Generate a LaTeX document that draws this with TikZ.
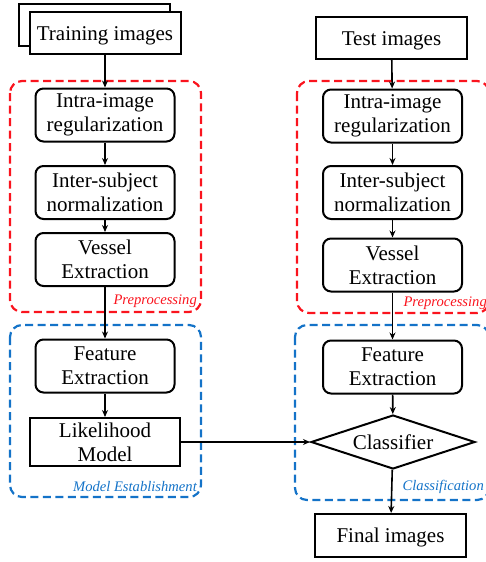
\documentclass[tikz,border=0pt]{standalone}
\usepackage{fontspec}
\setmainfont{Liberation Serif}
\usetikzlibrary{shapes.geometric,arrows.meta}
\definecolor{pred}{RGB}{250,20,30}
\definecolor{pblue}{RGB}{20,115,200}
\begin{document}
\begin{tikzpicture}[x=1pt,y=-1pt,
  every node/.style={font=\fontsize{21}{24}\selectfont, inner sep=0pt, align=center},
  rbox/.style={draw, line width=2pt, rounded corners=8pt, minimum width=139pt, minimum height=53pt},
  sbox/.style={draw, line width=2pt, minimum width=151pt, minimum height=42pt, text height=14pt, text depth=0pt},
  mbox/.style={draw, line width=2pt, minimum width=150pt, minimum height=48pt},
  arr/.style={-{Stealth[length=7pt,width=6pt]}, line width=1.6pt},
  grp/.style={dash pattern=on 8pt off 4.5pt, line width=2.2pt, rounded corners=12pt},
  lab/.style={font=\fontsize{14.6}{16}\selectfont\itshape, anchor=base east, inner sep=0pt}
]
\useasboundingbox (0,0) rectangle (486,562);

% group frames
\draw[grp, pred] (10,81) rectangle (201,312);
\draw[grp, pblue] (10,325) rectangle (201,497);
\draw[grp, pred] (297,81) rectangle (489,313);
\draw[grp, pblue] (295,325) rectangle (489,500);

\node[lab, pred] (lp) at (197,304) {Preprocessing};
\node[lab, pred] (rp) at (487,306) {Preprocessing};
\node[lab, pblue] (lme) at (197,491) {Model Establishment};
\node[lab, pblue] (rc) at (484,490) {Classification};

% left column
\node[sbox, fill=white] (trb) at (94.5,24.5) {};
\node[sbox, fill=white] (tr) at (105,33) {Training images};
\node[rbox] (li1) at (105,115) {Intra-image\\regularization};
\node[rbox] (li2) at (105,192.5) {Inter-subject\\normalization};
\node[rbox] (li3) at (105,259.5) {Vessel\\Extraction};
\node[rbox] (lf) at (105,366) {Feature\\Extraction};
\node[mbox] (lm) at (105,442) {Likelihood\\Model};

% right column
\node[sbox] (te) at (391.5,38) {Test images};
\node[rbox] (ri1) at (392.5,116) {Intra-image\\regularization};
\node[rbox] (ri2) at (392.5,192.5) {Inter-subject\\normalization};
\node[rbox] (ri3) at (392.5,265) {Vessel\\Extraction};
\node[rbox] (rf) at (392.5,367) {Feature\\Extraction};
\node[diamond, draw, line width=2pt, aspect=3.04, minimum width=164pt, minimum height=54pt, text height=14pt, text depth=0pt] (cl) at (393,442) {Classifier};
\node[sbox, minimum height=43pt] (fi) at (390.5,535.5) {Final images};

% connectors
\draw[arr] (tr) -- (li1);
\draw[arr] (li1) -- (li2);
\draw[arr] (li2) -- (li3);
\draw[arr] (li3) -- (lf);
\draw[arr] (lf) -- (lm);
\draw[arr] (te) -- (ri1);
\draw[arr] (ri1) -- (ri2);
\draw[arr] (ri2) -- (ri3);
\draw[arr] (ri3) -- (rf);
\draw[arr] (rf) -- (cl);
\draw[arr] (lm) -- (cl);
\draw[arr] (cl) -- (fi);
\end{tikzpicture}
\end{document}
